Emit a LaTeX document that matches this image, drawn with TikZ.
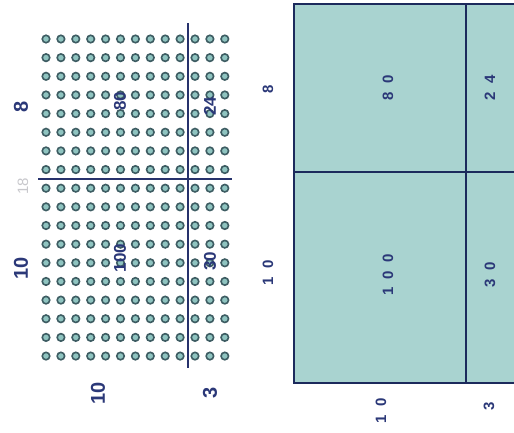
\documentclass[tikz,border=0pt]{standalone}
\usepackage{fontspec}
\setmainfont{Liberation Sans}
\definecolor{navy}{HTML}{2B3878}
\definecolor{linenavy}{HTML}{1C2A5C}
\definecolor{dotfill}{HTML}{8FC4C0}
\definecolor{dotdraw}{HTML}{3D5C62}
\definecolor{panelfill}{HTML}{A9D3D0}
\definecolor{faint}{HTML}{C8C8CC}
\begin{document}
\begin{tikzpicture}[x=1pt,y=-1pt,
  dot/.style={circle,draw=dotdraw,fill=dotfill,line width=1.6pt,inner sep=0pt,minimum size=7.5pt},
  biglab/.style={rotate=90,text=navy,font=\fontsize{20}{20}\selectfont\bfseries,inner sep=0pt},
  inlab/.style={rotate=90,text=navy,font=\fontsize{17}{17}\selectfont\bfseries,inner sep=0pt},
  sparselab/.style={rotate=90,text=navy,font=\fontsize{15}{15}\selectfont\addfontfeature{LetterSpace=55}\bfseries,inner sep=0pt},
  gridline/.style={draw=navy!90!black,line width=1.3pt},
  panelline/.style={draw=linenavy,line width=1.6pt}]
\useasboundingbox (0,0) rectangle (514,432);
\fill[white] (0,0) rectangle (514,432);
% ---- left panel: dot grid ----
\foreach \i in {0,...,12}{
  \foreach \j in {0,...,17}{
    \node[dot] (d-\i-\j) at ({46+14.9*\i},{39+18.65*\j}) {};
  }
}
\coordinate (hl) at (38,179);
\coordinate (hr) at (232,179);
\coordinate (vt) at (188,23);
\coordinate (vb) at (188,368);
\draw[gridline] (hl) -- (hr);
\draw[gridline] (vt) -- (vb);
\node[biglab] (l8) at (21,107) {8};
\node[biglab] (l10) at (21,268) {10};
\node[rotate=90,text=faint,font=\fontsize{15}{15}\selectfont,inner sep=0pt] (l18) at (23,186) {18};
\node[biglab] (b10) at (98,393) {10};
\node[biglab] (b3) at (210,393) {3};
\node[inlab] (i80) at (120,101) {80};
\node[inlab] (i24) at (210,106) {24};
\node[inlab] (i100) at (120,258) {100};
\node[inlab] (i30) at (210,261) {30};
% ---- right panel: area model ----
\coordinate (rtl) at (294,4);
\coordinate (rtr) at (514,4);
\coordinate (rbl) at (294,383);
\coordinate (rbr) at (514,383);
\coordinate (rvt) at (466,4);
\coordinate (rvb) at (466,383);
\coordinate (rhl) at (294,172);
\coordinate (rhr) at (514,172);
\fill[panelfill] (rtl) rectangle (rbr);
\draw[panelline] (rtr) -- (rtl) -- (rbl) -- (rbr);
\draw[panelline] (rvt) -- (rvb);
\draw[panelline] (rhl) -- (rhr);
\node[sparselab] (r8) at (268,89) {8};
\node[sparselab] (r10) at (268,273) {10};
\node[sparselab] (rb10) at (381,411) {10};
\node[sparselab] (rb3) at (489,406) {3};
\node[sparselab] (r80) at (388,88) {80};
\node[sparselab] (r24) at (490,88) {24};
\node[sparselab] (r100) at (388,275) {100};
\node[sparselab] (r30) at (490,275) {30};
\end{tikzpicture}
\end{document}
